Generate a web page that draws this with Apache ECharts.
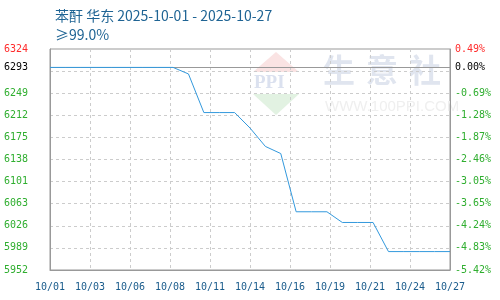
<!DOCTYPE html>
<html>
<head>
<meta charset="utf-8">
<script src="https://cdn.jsdelivr.net/npm/echarts@6/dist/echarts.min.js"></script>
<style>html,body{margin:0;padding:0;background:#fff}#c{width:500px;height:300px}</style>
</head>
<body>
<div id="c"></div>
<script>
var titleText = '苯酐 华东 2025-10-01 - 2025-10-27';
var subText = '≥99.0%';
var dates = ['2025-10-01','2025-10-02','2025-10-03','2025-10-04','2025-10-05','2025-10-06','2025-10-07','2025-10-08','2025-10-09','2025-10-10','2025-10-11','2025-10-12','2025-10-13','2025-10-14','2025-10-15','2025-10-16','2025-10-17','2025-10-18','2025-10-19','2025-10-20','2025-10-21','2025-10-22','2025-10-23','2025-10-24','2025-10-25','2025-10-26','2025-10-27'];
var prices = [6293,6293,6293,6293,6293,6293,6293,6293,6293,6282,6217,6217,6217,6191,6160,6148,6050,6050,6050,6032,6032,6032,5983,5983,5983,5983,5983];
var xTickLabels = ['10/01','10/03','10/06','10/08','10/11','10/14','10/16','10/19','10/21','10/24','10/27'];
var leftTickLabels = ['5952','5989','6026','6063','6101','6138','6175','6212','6249','','6324'];
var rightTickLabels = ['-5.42%','-4.83%','-4.24%','-3.65%','-3.05%','-2.46%','-1.87%','-1.28%','-0.69%','','0.49%'];
var baseValue = 6293;
var baseLeftLabel = '6293';
var baseRightLabel = '0.00%';
var yMin = 5952, yMax = 6324, yStep = 37.2;

var DAY = 86400000;
var t0 = Date.parse(dates[0]);
var seriesData = dates.map(function (d, i) { return [(Date.parse(d) - t0) / DAY, prices[i]]; });
var spanDays = (Date.parse(dates[dates.length - 1]) - t0) / DAY;

var FONT = 'DejaVu Sans Mono';
function labelColor(idx, last) { return idx === last ? '#ff2a2a' : '#2fae2f'; }

var chart = echarts.init(document.getElementById('c'), null, {renderer: 'canvas'});
chart.setOption({
  animation: false,
  backgroundColor: '#fff',
  title: [
    {text: titleText, left: 50, top: 4, textStyle: {fontFamily: 'Noto Sans CJK SC', fontSize: 14, fontWeight: 'normal', color: '#1f6494'}},
    {text: subText, left: 50, top: 23, textStyle: {fontFamily: 'Noto Sans CJK SC', fontSize: 14, fontWeight: 'normal', color: '#1f6494'}}
  ],
  grid: {left: 50, right: 50, top: 49, bottom: 30, show: true, borderColor: '#999', borderWidth: 1, containLabel: false},
  xAxis: {
    type: 'value', min: 0, max: spanDays, interval: spanDays / 10,
    axisLine: {show: true, lineStyle: {color: '#999'}},
    axisTick: {show: false},
    splitLine: {show: true, lineStyle: {color: '#ccc', type: [3, 3]}},
    axisLabel: {margin: 12, fontFamily: FONT, fontSize: 10, color: '#1a5c8c',
      formatter: function (v, i) { return xTickLabels[i] || ''; }}
  },
  yAxis: [
    {type: 'value', min: yMin, max: yMax, interval: yStep, position: 'left',
      axisLine: {show: true, lineStyle: {color: '#999'}}, axisTick: {show: false},
      splitLine: {show: true, lineStyle: {color: '#ccc', type: [3, 3]}},
      axisLabel: {margin: 22, fontFamily: FONT, fontSize: 10,
        color: function (v, i) { return labelColor(i, leftTickLabels.length - 1); },
        formatter: function (v, i) { return leftTickLabels[i] || ''; }}},
    {type: 'value', min: yMin, max: yMax, interval: yStep, position: 'right',
      axisLine: {show: true, lineStyle: {color: '#999'}}, axisTick: {show: false},
      splitLine: {show: false},
      axisLabel: {margin: 5, fontFamily: FONT, fontSize: 10,
        color: function (v, i) { return labelColor(i, rightTickLabels.length - 1); },
        formatter: function (v, i) { return rightTickLabels[i] || ''; }}}
  ],
  graphic: [
    {type: 'polygon', silent: true, z: 0, shape: {points: [[253, 72], [299, 72], [276, 52]]}, style: {fill: '#fae3e3'}},
    {type: 'polygon', silent: true, z: 0, shape: {points: [[253, 94], [299, 94], [276, 115]]}, style: {fill: '#e2f2e2'}},
    {type: 'text', silent: true, z: 0, left: 254, top: 74, style: {text: 'PPI', font: 'bold 19px Liberation Serif', fill: '#dbe1ef'}},
    {type: 'text', silent: true, z: 0, left: 323, top: 54, style: {text: '生', font: 'bold 32px Noto Sans CJK SC', fill: '#e0e5ef'}},
    {type: 'text', silent: true, z: 0, left: 366, top: 54, style: {text: '意', font: 'bold 32px Noto Sans CJK SC', fill: '#e0e5ef'}},
    {type: 'text', silent: true, z: 0, left: 409, top: 54, style: {text: '社', font: 'bold 32px Noto Sans CJK SC', fill: '#e0e5ef'}},
    {type: 'text', silent: true, z: 0, left: 325, top: 99, style: {text: 'WWW.100PPI.COM', font: '15px Liberation Sans', fill: '#efefef'}}
  ],
  series: [{
    type: 'line', data: seriesData, showSymbol: false, symbol: 'none',
    lineStyle: {color: '#3399dd', width: 1}, z: 5,
    markLine: {
      silent: true, symbol: 'none', animation: false,
      lineStyle: {color: '#999', type: 'solid', width: 1},
      data: [
        {yAxis: baseValue, label: {position: 'start', distance: 22, formatter: baseLeftLabel, color: '#000', fontFamily: FONT, fontSize: 10}},
        {yAxis: baseValue, label: {position: 'end', distance: 5, formatter: baseRightLabel, color: '#000', fontFamily: FONT, fontSize: 10}}
      ]
    }
  }]
});
</script>
</body>
</html>
